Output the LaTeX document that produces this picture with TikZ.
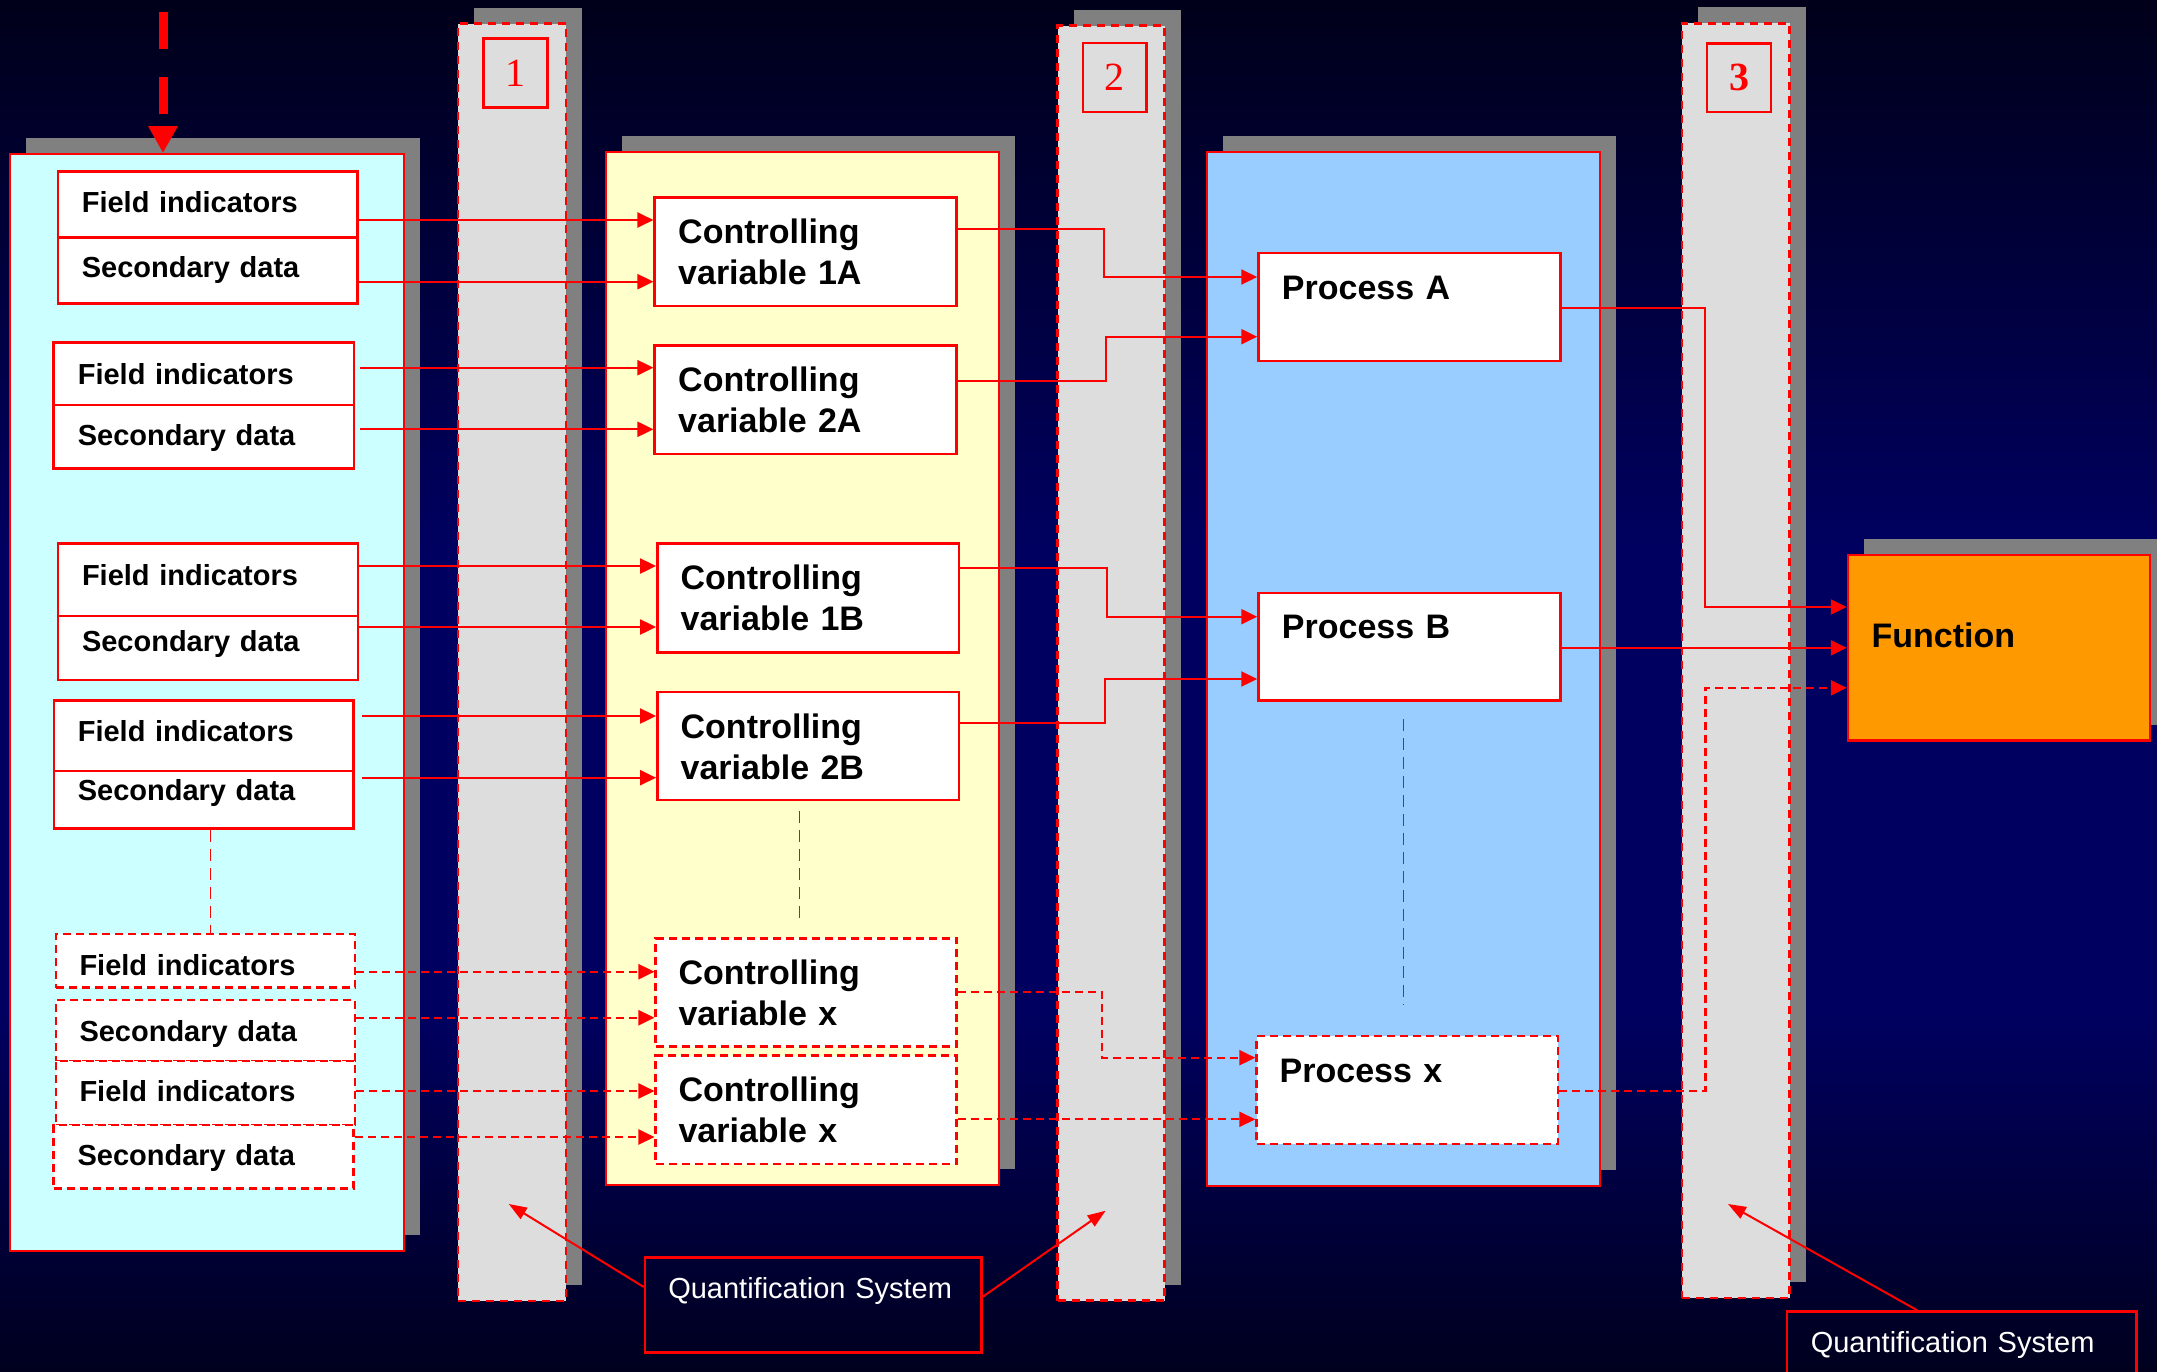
\documentclass[tikz,border=0pt]{standalone}
\usepackage{fontspec}
\setmainfont{Liberation Sans}
\newfontfamily\numfont{Liberation Serif}
\usetikzlibrary{arrows.meta,shadows}

\definecolor{bgtop}{RGB}{0,0,26}
\definecolor{bgmid}{RGB}{0,0,96}
\definecolor{bgbot}{RGB}{0,0,30}
\definecolor{shadowgray}{RGB}{128,128,128}
\definecolor{cyanfill}{RGB}{204,255,255}
\definecolor{yellowfill}{RGB}{255,255,204}
\definecolor{bluefill}{RGB}{153,204,255}
\definecolor{colfill}{RGB}{221,221,221}
\definecolor{orangefill}{RGB}{255,153,0}
% the shaded rectangle covers the band from 25bp to 75bp of the shading
\pgfdeclareverticalshading{bgshade}{100bp}{color(0bp)=(bgbot); color(25bp)=(bgbot); color(38bp)=(bgmid); color(55bp)=(bgmid); color(75bp)=(bgtop); color(100bp)=(bgtop)}

\begin{document}
\begin{tikzpicture}[x=1pt,y=-1pt,
  boxspan/.style n args={4}{minimum width={#3-#1}, minimum height={#4-#2},
    at={({(#1+#3)/2},{(#2+#4)/2})}},
  tb/.style 2 args={text height=#1pt, text depth=#2pt},
  shade16/.style={drop shadow={shadow xshift=16pt, shadow yshift=16pt,
    fill=shadowgray, opacity=1}},
  panel/.style={draw=red, line width=2pt, inner sep=0pt, shade16},
  column/.style={panel, fill=colfill, line width=2.5pt, dash pattern=on 8pt off 6pt},
  numbox/.style={draw=red, line width=2.5pt, inner sep=0pt, text=red,
    font=\numfont\fontsize{40pt}{40pt}\selectfont},
  databox/.style={draw=red, fill=white, line width=2.5pt, inner sep=0pt,
    text width=252pt, align=left, font=\fontsize{29pt}{35pt}\selectfont\bfseries},
  datadash/.style={databox, dash pattern=on 8pt off 5pt},
  ctrlbox/.style={draw=red, fill=white, line width=2.5pt, inner sep=0pt,
    text width=255pt, align=left, font=\fontsize{34pt}{41pt}\selectfont\bfseries},
  ctrldash/.style={ctrlbox, dash pattern=on 8pt off 5pt},
  qsbox/.style={draw=red, line width=2.5pt, inner sep=0pt, align=left, text=white,
    font=\fontsize{29pt}{35pt}\selectfont},
  arr/.style={draw=red, line width=2.2pt, -{Triangle[length=16pt,width=15pt]}},
  darr/.style={arr, dash pattern=on 8pt off 5pt},
  guide/.style={draw=red, line width=1.5pt, dash pattern=on 12pt off 7pt},
  pointer/.style={draw=red, line width=2pt, -{Triangle[length=18pt,width=13pt]}},
  feedarrow/.style={draw=red, line width=9pt, dash pattern=on 37pt off 28pt,
    -{Triangle[length=27pt,width=28pt]}}
]
\useasboundingbox (0,0) rectangle (2157,1371);
\clip (0,0) rectangle (2157,1371);
\shade[shading=bgshade] (0,0) rectangle (2157,1371);

% panels and quantification columns
\node[panel, fill=cyanfill, boxspan={10}{154}{404}{1251}] (lp) {};
\node[column, boxspan={458}{23.5}{566}{1301}] (col1) {};
\node[panel, fill=yellowfill, boxspan={606}{152}{999}{1185}] (yp) {};
\node[column, boxspan={1057.5}{25.7}{1164.5}{1300.7}] (col2) {};
\node[panel, fill=bluefill, boxspan={1206.5}{152}{1599.6}{1186}] (bp) {};
\node[column, boxspan={1681.8}{23.3}{1789.7}{1298}] (col3) {};

\node[numbox, boxspan={483.5}{38.5}{547.5}{107.7}] (n1) {1};
\node[numbox, boxspan={1082.8}{43}{1146.5}{112}] (n2) {2};
\node[numbox, boxspan={1707}{43.3}{1771}{112}] (n3) {\bfseries 3};

% field indicators and secondary data
\node[databox, boxspan={58}{171.7}{357.6}{237.7}, tb={41}{25}] (fi1) {Field indicators};
\node[databox, boxspan={58}{237.7}{357.6}{303.3}, tb={39.3}{26.3}] (sd1) {Secondary data};
\node[databox, boxspan={53.6}{342.7}{354}{405}, tb={41.3}{21}] (fi2) {Field indicators};
\node[databox, boxspan={53.6}{405}{354}{468.3}, tb={40.7}{22.6}] (sd2) {Secondary data};
\node[databox, boxspan={58.2}{543.3}{357.8}{616}, tb={41.7}{31}] (fi3) {Field indicators};
\node[databox, boxspan={58.2}{616}{357.8}{680}, tb={35.7}{28.3}] (sd3) {Secondary data};
\node[databox, boxspan={54}{700.7}{353.6}{771}, tb={41}{29.3}] (fi4) {Field indicators};
\node[databox, boxspan={54}{771}{353.6}{828.3}, tb={29}{28.3}] (sd4) {Secondary data};
\node[datadash, boxspan={56}{934}{355}{987.7}, tb={41}{12.7}] (dfi1) {Field indicators};
\node[datadash, boxspan={56}{1000}{355}{1061}, tb={41.7}{19.3}] (dsd1) {Secondary data};
\node[datadash, boxspan={56}{1061}{355}{1125}, tb={40.7}{23.3}] (dfi2) {Field indicators};
\node[datadash, boxspan={53.6}{1125}{353.5}{1188.3}, tb={40}{23.3}] (dsd2) {Secondary data};

% controlling variables
\node[ctrlbox, boxspan={654.7}{197.7}{956.7}{306}, tb={46}{62.3}] (c1a) {Controlling\\variable 1A};
\node[ctrlbox, boxspan={654.7}{345.7}{956.7}{454}, tb={46}{62.3}] (c2a) {Controlling\\variable 2A};
\node[ctrlbox, boxspan={657.3}{543.3}{959}{652.3}, tb={46}{63}] (c1b) {Controlling\\variable 1B};
\node[ctrlbox, boxspan={657.3}{692}{959}{800}, tb={46}{62}] (c2b) {Controlling\\variable 2B};
\node[ctrldash, boxspan={655.7}{938.3}{956.4}{1046.7}, tb={46}{62.4}] (cx1) {Controlling\\variable x};
\node[ctrldash, boxspan={655.7}{1055.7}{956.4}{1164}, tb={46}{62.3}] (cx2) {Controlling\\variable x};

% processes and function
\node[ctrlbox, boxspan={1258.5}{253}{1560.4}{361}, tb={46}{62}] (pa) {Process A};
\node[ctrlbox, boxspan={1258.5}{592.8}{1560.4}{700.5}, tb={46}{61.7}] (pb) {Process B};
\node[ctrldash, boxspan={1256.6}{1036}{1557.8}{1144}, tb={46}{62}] (px) {Process x};
\node[ctrlbox, fill=orangefill, shade16, boxspan={1848}{555}{2150}{740.5}, tb={92}{93.5}] (fn) {Function};

% quantification system callouts
\node[qsbox, text width=290pt, boxspan={645}{1257.7}{981.6}{1352.7}, tb={40.6}{54.4}] (qs1) {Quantification System};
\node[qsbox, text width=302pt, boxspan={1787}{1311.7}{2136.5}{1406.7}, tb={41.1}{53.9}] (qs2) {Quantification System};

% incoming data
\coordinate (feed) at (163,12);
\draw[feedarrow] (feed) -- (lp.north -| feed);

% data to controlling variables
\draw[arr] (fi1.east |- 0,220) -- (c1a.west |- 0,220);
\draw[arr] (sd1.east |- 0,281.7) -- (c1a.west |- 0,281.7);
\draw[arr] ([xshift=5pt]fi2.east |- 0,367.7) -- (c2a.west |- 0,367.7);
\draw[arr] ([xshift=5pt]sd2.east |- 0,429.3) -- (c2a.west |- 0,429.3);
\draw[arr] (fi3.east |- 0,566) -- (c1b.west |- 0,566);
\draw[arr] (sd3.east |- 0,627) -- (c1b.west |- 0,627);
\draw[arr] ([xshift=7pt]fi4.east |- 0,716) -- (c2b.west |- 0,716);
\draw[arr] ([xshift=7pt]sd4.east |- 0,777.7) -- (c2b.west |- 0,777.7);
\draw[darr] (dfi1.east |- 0,971.7) -- (cx1.west |- 0,971.7);
\draw[darr] (dsd1.east |- 0,1017.7) -- (cx1.west |- 0,1017.7);
\draw[darr] (dfi2.east |- 0,1091) -- (cx2.west |- 0,1091);
\draw[darr] (dsd2.east |- 0,1137) -- (cx2.west |- 0,1137);

% controlling variables to processes
\draw[arr] (c1a.east |- 0,228.7) -- (1104,228.7) -- (1104,277) -- (pa.west |- 0,277);
\draw[arr] (c2a.east |- 0,380.7) -- (1105.7,380.7) -- (1105.7,336.7) -- (pa.west |- 0,336.7);
\draw[arr] (c1b.east |- 0,568.3) -- (1107,568.3) -- (1107,616.7) -- (pb.west |- 0,616.7);
\draw[arr] (c2b.east |- 0,722.7) -- (1104.6,722.7) -- (1104.6,679) -- (pb.west |- 0,679);
\draw[darr] (cx1.east |- 0,991.7) -- (1101.8,991.7) -- (1101.8,1057.7) -- (px.west |- 0,1057.7);
\draw[darr] (cx2.east |- 0,1119.3) -- (px.west |- 0,1119.3);

% processes to function
\draw[arr] (pa.east |- 0,308) -- (1705,308) -- (1705,607) -- (fn.west |- 0,607);
\draw[arr] (pb.east |- 0,647.8) -- (fn.west |- 0,647.8);
\draw[darr] (px.east |- 0,1091) -- (1705.5,1091) -- (1705.5,687.8) -- (fn.west |- 0,687.8);

% continuation guides
\draw[guide] (sd4.south -| 210.5,0) -- (dfi1.north -| 210.5,0);
\draw[guide] ([yshift=-10pt]c2b.south -| 799.7,0) -- ([yshift=15pt]cx1.north -| 799.7,0);
\draw[guide] ([yshift=-17.5pt]pb.south -| 1403.7,0) -- ([yshift=30pt]px.north -| 1403.7,0);

% callout pointers
\coordinate (tip1) at (508.8,1204);
\coordinate (tip2) at (1105.6,1210.7);
\coordinate (tip3) at (1728,1204);
\draw[pointer] (qs1.west |- 0,1287) -- (tip1);
\draw[pointer] (qs1.east |- 0,1296.7) -- (tip2);
\draw[pointer] (qs2.north -| 1917.5,0) -- (tip3);
\end{tikzpicture}
\end{document}
